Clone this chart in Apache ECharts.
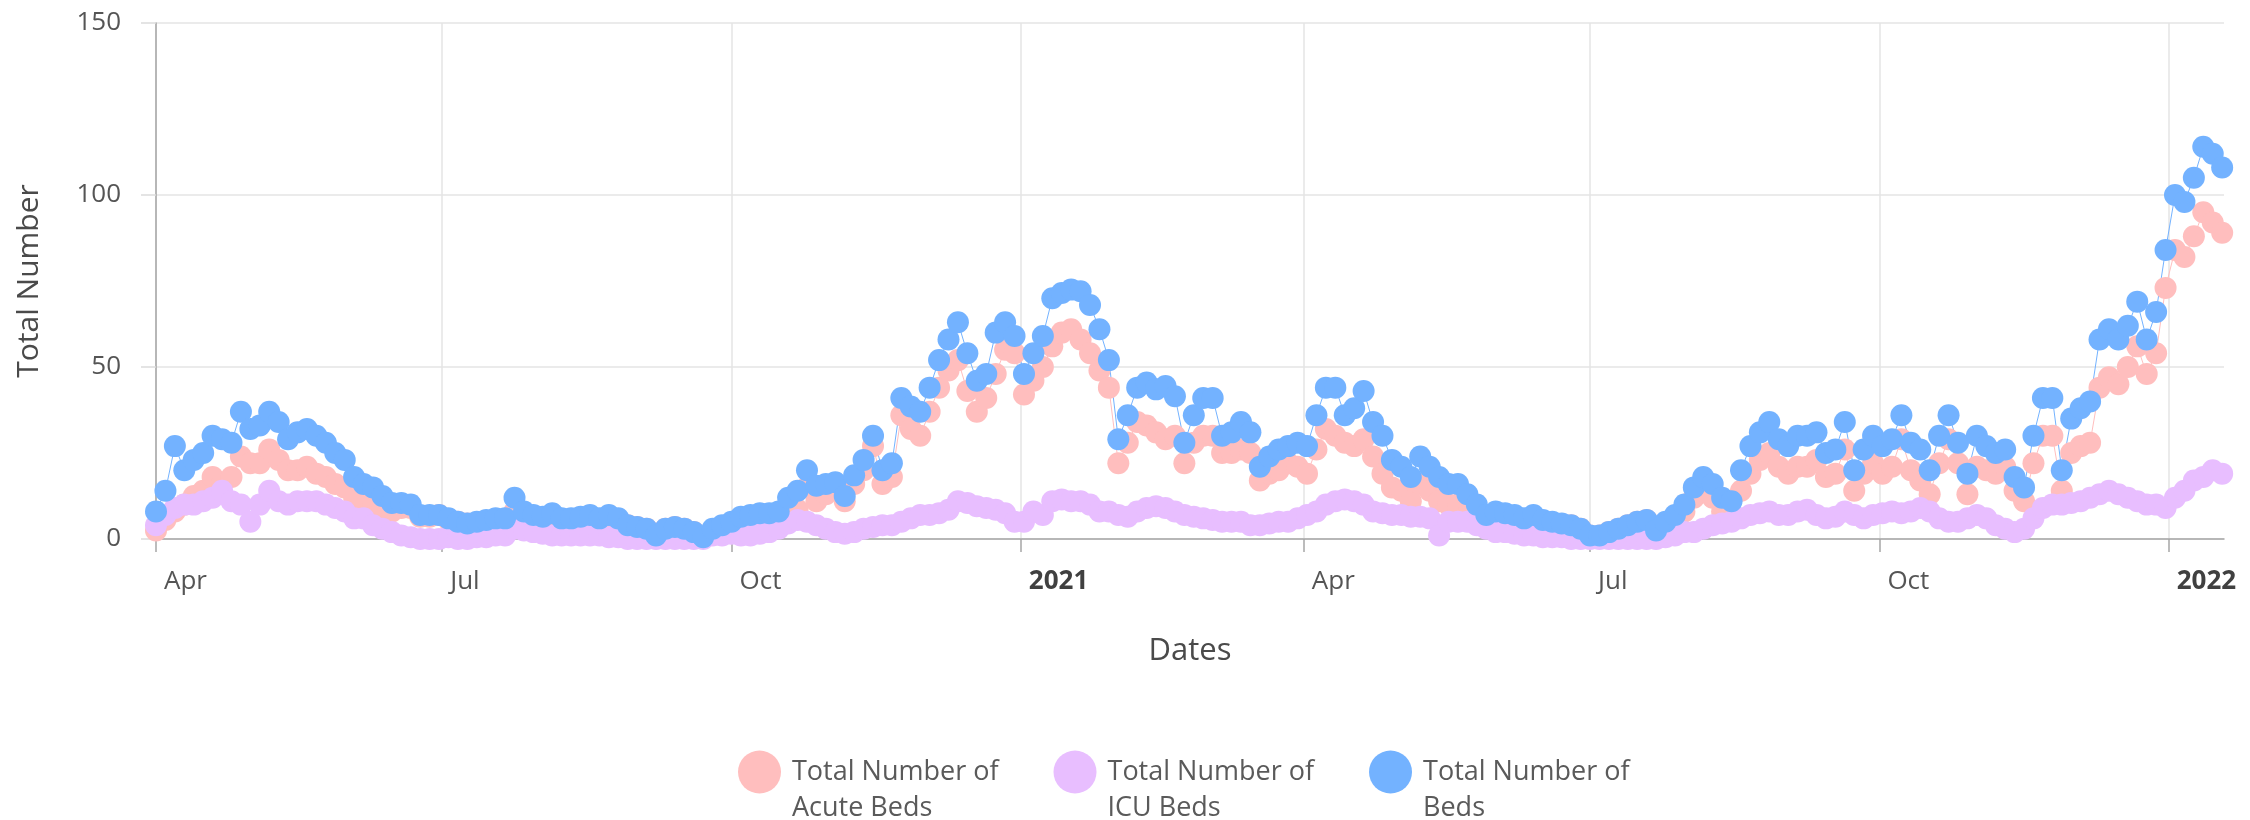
<!DOCTYPE html>
<html>
<head>
<meta charset="utf-8">
<script src="https://cdn.jsdelivr.net/npm/echarts@6/dist/echarts.min.js"></script>
<style>
  html, body { margin: 0; padding: 0; background: #ffffff; }
  #chart { width: 2250px; height: 820px; }
</style>
</head>
<body>
<div id="chart"></div>
<script>
// ---- data (one value every 3 days, starting 1 Apr 2020) ----
const startYear = 2020, startMonth = 3, startDay = 1, stepDays = 3;

const acuteBeds = [
  2.5, 5.5, 8, 10, 12.5, 14, 18, 16, 18, 24, 22, 22, 26, 23, 20, 20, 21, 19, 18, 16, 15, 12, 10, 10, 9, 8, 9, 9, 6.5, 6.5, 7,
  5.5, 5, 4.5, 4.5, 5, 5, 5, 8, 5.5, 5, 5, 6.5, 5, 5, 5.5, 6, 5, 6.5, 5.5, 4, 3.5, 3, 1, 3, 3.5, 3, 2, 0.5, 2, 3, 3.5,
  5.5, 6, 6, 5.5, 5, 7.5, 8.5, 15, 11, 13, 14.5, 11, 16, 20, 27, 16, 18, 36, 32, 30, 37, 44, 49, 52, 43, 37, 41, 48, 55, 54, 42, 46,
  50, 56, 60, 61, 58, 54, 49, 44, 22, 28, 34, 33, 31, 29, 30, 22, 28, 30, 30, 25, 25, 26, 25, 17, 19, 20, 22, 21, 19, 26, 32,
  30, 28, 27, 29, 24, 19, 15, 14, 11, 16, 14, 11, 10, 10, 7, 6, 4, 5.5, 5, 5.5, 5, 6, 5, 4.5, 4, 4, 3, 1, 1, 2, 3,
  4, 5, 5.5, 2.5, 4.5, 6, 8, 12, 15, 12, 8, 7, 14, 19, 23, 25, 21, 19, 21, 21, 23, 18, 19, 26, 14, 19, 22, 19, 21, 29, 20, 17,
  13, 22, 29, 22, 13, 21, 20, 19, 21, 14, 11, 22, 30, 30, 14, 25, 27, 28, 44, 47, 45, 50, 56, 48, 54, 73, 84, 82, 88, 95, 92, 89
];

const icuBeds = [
  4, 7, 9, 10, 10, 11, 12, 14, 11, 10, 5, 10, 14, 11, 10, 11, 11, 11, 10, 9, 8, 6, 6, 4, 3, 2, 1, 0.5, 0, 0, 0,
  0.5, 0, 0, 0.5, 0.5, 1, 1, 3, 2.5, 2, 1.5, 1, 1, 1, 1, 1, 1, 0.5, 0.5, 0, 0, 0, 0, 0, 0, 0, 0, 0, 1, 1, 1.5,
  1, 1, 1.5, 2, 3, 4.5, 5.5, 5, 4, 3, 2, 1.5, 2, 3, 3.5, 4, 4, 5, 6, 7, 7, 7.5, 8.5, 11, 10.5, 9.5, 9, 8.5, 7.5, 5, 5, 8,
  7, 11, 11.5, 11, 11, 10, 8, 8, 7, 6.5, 8, 9, 9.5, 9, 8, 7, 6.5, 6, 5.5, 5, 5, 5, 4, 4, 4.5, 5, 5, 6, 7, 8, 10,
  11, 11.5, 11, 10, 8, 7.5, 7, 7, 6.5, 6.5, 6, 1, 5, 5, 5, 4, 3, 2, 2, 1.5, 1, 1, 0.5, 0.5, 0.5, 0, 0, 0, 0, 0, 0,
  0, 0, 0, 0, 0.5, 1, 2, 2, 3, 4, 4.5, 5, 6, 7, 7.5, 8, 7, 7, 8, 8.5, 7, 6, 6.5, 8, 7, 6, 7, 7.5, 8, 7.5, 8, 9,
  8, 6, 5, 5, 6, 7, 6, 4, 3, 2, 3, 6, 9, 10, 10, 10.5, 11, 12, 13, 14, 13, 12, 11, 10, 10, 9, 12, 14, 17, 18, 20, 19
];

const totalBeds = [
  8, 14, 27, 20, 23, 25, 30, 29, 28, 37, 32, 33, 37, 34, 29, 31, 32, 30, 28, 25, 23, 18, 16, 15, 12.5, 10.5, 10.5, 10, 7, 7, 7,
  6, 5, 4.5, 5, 5.5, 6, 6, 12, 8, 7, 6.5, 7.5, 6, 6, 6.5, 7, 6, 7, 6, 4, 3.5, 3, 1, 3, 3.5, 3, 2, 0.5, 3, 4, 5,
  6.5, 7, 7.5, 7.5, 8, 12, 14, 20, 15.5, 16, 16.5, 12.5, 18.5, 23, 30, 20, 22, 41, 38.5, 37, 44, 52, 58, 63, 54, 46, 48, 60, 63, 59, 48, 54,
  59, 70, 71.5, 72.5, 72, 68, 61, 52, 29, 36, 44, 45.5, 43.5, 44.5, 41.5, 28, 36, 41, 41, 30, 31, 34, 31, 21, 24, 26, 27, 28, 27, 36, 44,
  44, 36, 38, 43, 34, 30, 23, 21, 18, 24, 21, 18, 16, 16, 13, 10, 7, 8, 7.5, 7, 6, 7, 5.5, 5, 4.5, 4, 3, 1, 1, 2, 3,
  4, 5, 5.5, 2.5, 5, 7, 10, 15, 18, 16, 12, 11, 20, 27, 31, 34, 29, 27, 30, 30, 31, 25, 26, 34, 20, 26, 30, 27, 29, 36, 28, 26,
  20, 30, 36, 28, 19, 30, 27, 25, 26, 18, 15, 30, 41, 41, 20, 35, 38, 40, 58, 61, 58, 62, 69, 58, 66, 84, 100, 98, 105, 114, 112, 108
];

const seriesNames = ['Total Number of\nAcute Beds', 'Total Number of\nICU Beds', 'Total Number of\nBeds'];
const seriesColors = ['#FFBEBE', '#E8BEFF', '#73B2FF'];

const tickDates = [[2020,3,1],[2020,6,1],[2020,9,1],[2021,0,1],[2021,3,1],[2021,6,1],[2021,9,1],[2022,0,1]];
const tickLabels = ['Apr', 'Jul', 'Oct', '2021', 'Apr', 'Jul', 'Oct', '2022'];
const yTicks = [0, 50, 100, 150];

// ---- build ----
const dates = acuteBeds.map((_, i) => new Date(startYear, startMonth, startDay + i * stepDays).getTime());
const tickTs = tickDates.map(d => new Date(d[0], d[1], d[2]).getTime());
const pair = arr => arr.map((v, i) => [dates[i], v]);

const FONT = '"Open Sans", "Noto Sans", sans-serif';
const chart = echarts.init(document.getElementById('chart'), null, { renderer: 'canvas' });

const makeSeries = (name, color, values) => ({
  name: name,
  type: 'line',
  data: pair(values),
  symbol: 'circle',
  symbolSize: 22,
  showSymbol: true,
  showAllSymbol: true,
  lineStyle: { width: 1, color: color },
  itemStyle: { color: color, opacity: 1 },
  emphasis: { disabled: true },
  clip: true
});

chart.setOption({
  animation: false,
  backgroundColor: '#ffffff',
  textStyle: { fontFamily: FONT },
  grid: { left: 156, right: 26, top: 23, bottom: 281, containLabel: false },
  legend: {
    data: seriesNames,
    left: 733,
    top: 713,
    icon: 'circle',
    itemWidth: 43,
    itemHeight: 43,
    itemGap: 55,
    formatter: function (name) { return '\n' + name; },
    textStyle: {
      fontFamily: FONT,
      fontSize: 27,
      color: '#5a5a5a',
      lineHeight: 36,
      padding: [0, 0, 0, 6]
    }
  },
  xAxis: {
    type: 'value',
    min: new Date(2020, 3, 1).getTime(),
    max: new Date(2022, 0, 18, 14).getTime(),
    name: 'Dates',
    nameLocation: 'middle',
    nameGap: 97,
    nameTextStyle: { fontFamily: FONT, fontSize: 31, color: '#4a4a4a' },
    axisLine: { show: true, lineStyle: { color: '#a6a6a6', width: 1.5 } },
    axisTick: { show: true, length: 13, lineStyle: { color: '#a6a6a6', width: 1.5 }, customValues: tickTs },
    splitLine: { show: true, lineStyle: { color: '#e4e4e4', width: 1.5 } },
    axisLabel: {
      customValues: tickTs,
      fontFamily: FONT,
      fontSize: 26,
      color: '#555555',
      margin: 30,
      align: 'left',
      padding: [0, 0, 0, 8],
      hideOverlap: false,
      showMinLabel: true,
      showMaxLabel: true,
      formatter: function (val) {
        const i = tickTs.indexOf(val);
        const s = i >= 0 ? tickLabels[i] : '';
        return /^\d{4}$/.test(s) ? '{y|' + s + '}' : s;
      },
      rich: { y: { fontFamily: FONT, fontSize: 26, fontWeight: 'bold', color: '#404040' } }
    }
  },
  yAxis: {
    type: 'value',
    min: yTicks[0],
    max: yTicks[yTicks.length - 1],
    interval: 50,
    name: 'Total Number',
    nameLocation: 'middle',
    nameGap: 112,
    nameTextStyle: { fontFamily: FONT, fontSize: 30, color: '#4a4a4a' },
    axisLine: { show: true, lineStyle: { color: '#a6a6a6', width: 1.5 } },
    axisTick: { show: true, length: 15, lineStyle: { color: '#dcdcdc', width: 1.5 } },
    splitLine: { show: true, lineStyle: { color: '#e4e4e4', width: 1.5 } },
    axisLabel: { fontFamily: FONT, fontSize: 26, color: '#555555', margin: 35 }
  },
  series: [
    makeSeries(seriesNames[0], seriesColors[0], acuteBeds),
    makeSeries(seriesNames[1], seriesColors[1], icuBeds),
    makeSeries(seriesNames[2], seriesColors[2], totalBeds)
  ]
});
</script>
</body>
</html>
